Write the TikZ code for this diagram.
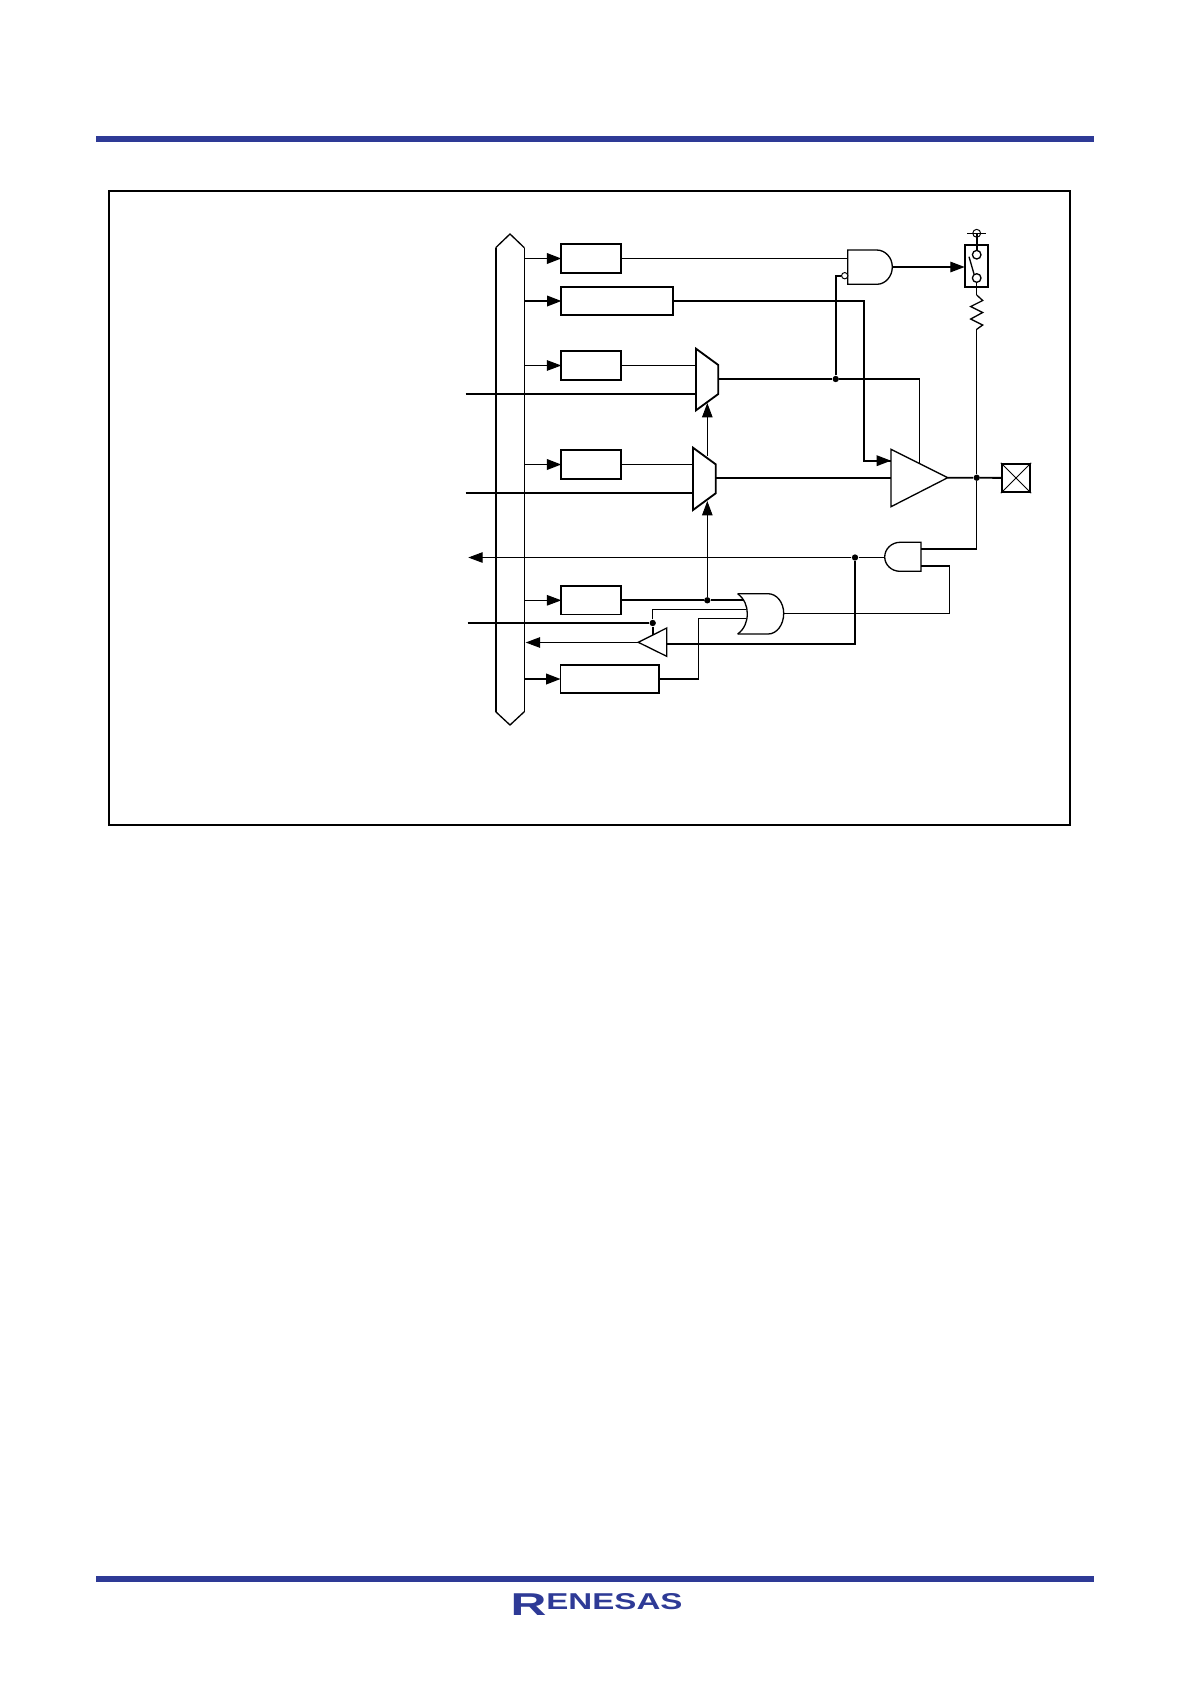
\documentclass[tikz,border=0pt]{standalone}
\usepackage{xcolor}
\usepackage{fontspec}
\setmainfont{Liberation Sans}
\usepackage{tikz}
\usetikzlibrary{arrows.meta,calc}
\definecolor{rulec}{HTML}{2E3A96}

\begin{document}
\begin{tikzpicture}[
    x=0.02cm, y=-0.02cm,
    thn/.style={line width=0.55pt},
    gat/.style={line width=0.75pt},
    thk/.style={line width=1.05pt},
    reg/.style={rectangle, draw, thk, inner sep=0pt, outer sep=0pt,
                minimum width=1.2cm, minimum height=0.57cm},
    arr/.style={-{Triangle[length=8.2pt,width=6pt]}},
    tip/.style={circle, fill, inner sep=0pt, minimum size=3.6pt},
    rule/.style={rectangle, fill=rulec, inner sep=0pt, minimum width=19.96cm, minimum height=0.125cm},
  ]
  \useasboundingbox (0,0) rectangle (1190,1684);

  % ===== Page furniture =====
  \node[rule] (toprule) at (595,139) {};
  \node[rule] (botrule) at (595,1579) {};
  \node[text=rulec, font=\bfseries, inner sep=0pt, anchor=base] (logo) at (596.5,1609)
    {\resizebox{3.44cm}{0.32cm}{\raisebox{-0.28em}{\scalebox{1.5}[1.38]{R}}ENESAS}};
  \node[rectangle, draw, line width=1.1pt, inner sep=0pt,
        minimum width=19.22cm, minimum height=12.68cm] (frame) at (589.5,508) {};

  % ===== Internal bus =====
  \coordinate (busl) at (495.7,480);
  \coordinate (busr) at (524.3,480);
  \draw[thk] (495.7,711.7) -- (495.7,247.7);
  \draw[gat] (495.7,247.7) -- (510,234) -- (524.3,247.7);
  \draw[gat] (495.7,711.7) -- (510,725) -- (524.3,711.7);
  \draw[thn] (524.3,247.7) -- (524.3,711.7);

  % ===== Registers =====
  \node[reg] (r1) at (591.3,258.5) {};
  \node[reg, minimum width=2.24cm] (r2) at (617.4,301) {};
  \node[reg] (r3) at (591.3,365.5) {};
  \node[reg] (r4) at (591.3,464.5) {};
  \node[reg] (r5) at (591.3,600.3) {};
  \node[reg, minimum width=1.97cm] (r6) at (609.8,679) {};

  \draw[arr, thk] (r1 -| busr) -- (r1);
  \draw[arr, thk] (r2 -| busr) -- (r2);
  \draw[arr, thn] (r3 -| busr) -- (r3);
  \draw[arr, thk] (r4 -| busr) -- (r4);
  \draw[arr, thn] (r5 -| busr) -- (r5);
  \draw[arr, thk] (r6 -| busr) -- (r6);

  % ===== Multiplexers =====
  \draw[thk] (696,348.7) -- (718.3,365) -- (718.3,394) -- (696,410.3) -- cycle;
  \draw[thk] (693,447.7) -- (715.7,464.3) -- (715.7,493.3) -- (693,510) -- cycle;

  \coordinate (m1a) at (696,365.5);
  \coordinate (m1b) at (696,393.7);
  \coordinate (m1o) at (718.3,379);
  \coordinate (m1s) at (707.3,403);
  \coordinate (m2a) at (693,464.5);
  \coordinate (m2b) at (693,493);
  \coordinate (m2o) at (715.7,477.7);
  \coordinate (m2t) at (707.3,456);
  \coordinate (m2s) at (707.3,501);
  \coordinate (in1) at (465.7,393.7);
  \coordinate (in2) at (465.7,493);

  \draw[thn] (r3) -- (m1a);
  \draw[thn] (r4) -- (m2a);
  \draw[thk] (in1) -- (m1b);
  \draw[thk] (in2) -- (m2b);
  \draw[arr, thn] (m2t) -- (m1s);

  % ===== Output driver =====
  \draw[gat] (891,449.3) -- (947.7,477.7) -- (891,506.7) -- cycle;
  \coordinate (ampi) at (891,477.7);
  \coordinate (ampe) at (891,460.7);
  \coordinate (ampc) at (919.5,463);
  \coordinate (ampo) at (947.7,477.7);
  \draw[thk] (m2o) -- (ampi);

  \node[tip] (jm) at (835.7,379) {};
  \coordinate (m1r) at (919.5,379);
  \draw[thk] (m1o) -- (jm) -- (m1r);
  \draw[thn] (m1r) -- (ampc);
  \coordinate (r2c) at (864,301);
  \draw[thk] (r2) -- (r2c) |- (ampe);
  \draw[arr, thk] (864,460.7) -- (ampe);

  % ===== Pull-up gate and switch =====
  \draw[gat] (876.7,250) -- (847.7,250) -- (847.7,284.3) -- (876.7,284.3)
    .. controls (885.3,284.3) and (892.3,276.6) .. (892.3,267)
    .. controls (892.3,257.6) and (885.3,250) .. (876.7,250);
  \node[circle, draw, thn, fill=white, inner sep=0pt, minimum size=3.6pt] (inv) at (844.7,275.7) {};
  \coordinate (g1a) at (847.7,258.5);
  \coordinate (g1o) at (892.3,267);
  \coordinate (sw) at (964.7,267);
  \coordinate (jv) at (835.7,275.7);
  \draw[thn] (r1) -- (g1a);
  \draw[thk] (jm) -- (jv) -- (inv);
  \draw[arr, gat] (g1o) -- (sw);

  \node[rectangle, draw, thk, inner sep=0pt, minimum width=0.47cm, minimum height=0.85cm] (swb) at (976.5,266) {};
  \node[circle, draw, gat, inner sep=0pt, minimum size=4.9pt] (c1) at (976.7,254.7) {};
  \node[circle, draw, gat, inner sep=0pt, minimum size=4.9pt] (c2) at (976.7,278) {};
  \node[circle, draw, thn, inner sep=0pt, minimum size=4.5pt] (vdd) at (976.7,233.3) {};
  \coordinate (vl) at (967.3,233.3);
  \coordinate (vr) at (986,233.3);
  \coordinate (sa) at (969,256.7);
  \coordinate (sb) at (974,274);
  \draw[thn] (vl) -- (vr);
  \draw[thk] (vdd.center) -- (c1);
  \draw[gat] (sa) -- (sb);
  \coordinate (ru) at (976.7,295);
  \coordinate (rl) at (976.7,329.3);
  \draw[thn] (c2) -- (ru);
  \draw[gat] (ru) -- (982.7,300.5) -- (970.7,306.5) -- (982.7,312.5) -- (970.7,319) -- (982.7,325) -- (rl);

  % ===== Pin =====
  \node[tip] (jo) at (976.7,477.7) {};
  \node[rectangle, draw, thk, inner sep=0pt, minimum size=0.57cm] (pin) at (1016,478) {};
  \draw[thn] (pin.north west) -- (pin.south east);
  \draw[thn] (pin.north east) -- (pin.south west);
  \draw[thk] (ampo) -- (jo) -- (pin);

  % ===== Read-back gate =====
  \draw[gat] (900,542.3) -- (921,542.3) -- (921,571.3) -- (900,571.3)
    .. controls (891.5,571.3) and (884.7,564.8) .. (884.7,557)
    .. controls (884.7,549) and (891.5,542.3) .. (900,542.3);
  \coordinate (g2o) at (884.7,557.5);
  \coordinate (g2a) at (921,548.7);
  \coordinate (g2b) at (921,566);
  \coordinate (g2ac) at (976.7,548.7);
  \coordinate (g2bc) at (949.7,566);
  \coordinate (orc) at (949.7,613.5);
  \node[tip] (jr) at (855,557.5) {};
  \coordinate (rdout) at (468.3,557.5);
  \draw[arr, thn] (g2o) -- (jr) -- (rdout);
  \draw[thk] (g2a) -- (g2ac);
  \draw[thk] (g2b) -- (g2bc);
  \draw[thn] (rl) -- (jo) -- (g2ac);
  \draw[thn] (g2bc) -- (orc);

  % ===== OR gate and buffer =====
  \draw[gat] (737.7,593.7) .. controls (744.5,599) and (747.3,606) .. (747.3,613.7)
    .. controls (747.3,621.5) and (744.5,629) .. (737.7,634);
  \draw[gat] (737.7,593.7) -- (768,593.7)
    .. controls (776.7,593.7) and (783.7,602.5) .. (783.7,613.3)
    .. controls (783.7,625) and (776.7,634) .. (768,634) -- (737.7,634);
  \coordinate (ora) at (744,600.3);
  \coordinate (orb) at (746.3,609.5);
  \coordinate (ord) at (746.3,618.5);
  \coordinate (oro) at (783.7,613.5);
  \draw[thn] (oro) -- (orc);

  \node[tip] (jt) at (707.3,600.3) {};
  \draw[thk] (r5) -- (jt) -- (ora);
  \draw[arr, thn] (jt) -- (m2s);

  \draw[gat] (666.7,628) -- (666.7,656.3) -- (638.3,642.3) -- cycle;
  \coordinate (bufo) at (638.3,642.5);
  \coordinate (bufi) at (666.7,644);
  \coordinate (buft) at (652.7,635);
  \coordinate (rbk) at (525.7,642.5);
  \draw[arr, thn] (bufo) -- (rbk);
  \coordinate (jrb) at (855,644);
  \draw[thk] (bufi) -- (jrb) -- (jr);

  \node[tip] (ji) at (652.7,623) {};
  \coordinate (in3) at (467.7,623);
  \coordinate (jit) at (652.7,609.5);
  \draw[thk] (in3) -- (ji);
  \draw[thk] (ji) -- (buft);
  \draw[thn] (ji) -- (jit) -- (orb);

  \coordinate (r6c) at (698.7,679);
  \coordinate (r6t) at (698.7,618.5);
  \draw[thk] (r6) -- (r6c);
  \draw[thn] (r6c) -- (r6t) -- (ord);
\end{tikzpicture}
\end{document}
